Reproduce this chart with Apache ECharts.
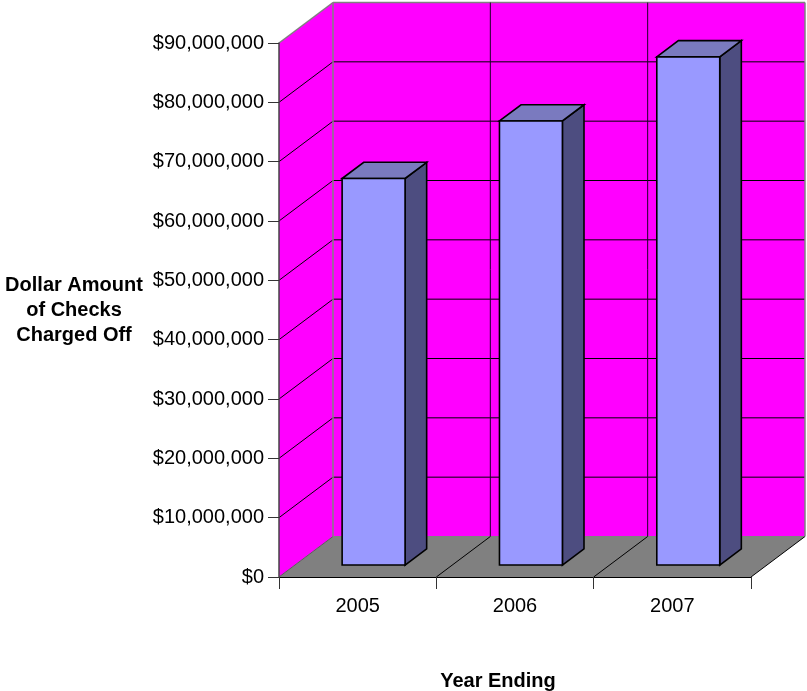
<!DOCTYPE html>
<html><head><meta charset="utf-8">
<style>html,body{margin:0;padding:0;background:#fff}#c{width:807px;height:691px}</style>
<script src="https://cdn.jsdelivr.net/npm/echarts@6/dist/echarts.min.js"></script>
</head><body><div id="c"></div>
<script>
const categories = ['2005', '2006', '2007'];
const chargedOff = [65150000, 74850000, 85650000];
const yTicks = [0, 10000000, 20000000, 30000000, 40000000, 50000000, 60000000, 70000000, 80000000, 90000000];
const yTitle = 'Dollar Amount\nof Checks\nCharged Off';
const xTitle = 'Year Ending';

const FONT = '"Liberation Sans", Arial, sans-serif';
const DX = 54, DY = -40.5;
const BAR_F = 0.295, BAR_B = 0.695, BAR_W = 0.4;
const MAGENTA = '#ff00ff', FLOOR = '#808080', LINE = '#000';
const YMAX = yTicks[yTicks.length - 1];
const n = categories.length;

const chart = echarts.init(document.getElementById('c'), null, {renderer: 'canvas'});

function poly(points, fill, stroke, w) {
  return {type: 'polygon', shape: {points}, style: {fill, stroke: stroke || null, lineWidth: w || 1, lineJoin: 'miter'}};
}
function seg(a, b, color, w) {
  return {type: 'line', shape: {x1: a[0], y1: a[1], x2: b[0], y2: b[1]}, style: {stroke: color, lineWidth: w || 1, fill: null}};
}
const back = p => [p[0] + DX, p[1] + DY];
function corners(api) {
  const band = api.size([1, 0])[0];
  const left = api.coord([0, 0])[0] - band / 2;
  const right = left + band * n;
  const y0 = api.coord([0, 0])[1];
  const yTop = api.coord([0, YMAX])[1];
  return {band, left, right, y0, yTop};
}

function renderWalls(params, api) {
  const c = corners(api);
  const fl = [c.left, c.y0], fr = [c.right, c.y0], tl = [c.left, c.yTop], tr = [c.right, c.yTop];
  const children = [
    poly([fl, tl, back(tl), back(fl)], MAGENTA),
    poly([back(fl), back(tl), back(tr), back(fr)], MAGENTA),
    poly([fl, fr, back(fr), back(fl)], FLOOR)
  ];
  return {type: 'group', children};
}
function renderGrid(params, api) {
  const c = corners(api);
  const y = api.coord([0, api.value(0)])[1];
  const a = [c.left, y], b = back(a), d = [c.right + DX, y + DY];
  const isTop = api.value(0) === YMAX, isZero = api.value(0) === 0;
  if (isZero) return {type: 'group', children: [seg(a, b, '#5a5a5a'), seg(b, d, FLOOR)]};
  if (isTop) return {type: 'group', children: [seg(a, b, FLOOR, 1.5), seg(b, d, FLOOR, 1.5)]};
  return {type: 'group', children: [seg(a, b, LINE), seg(b, d, LINE)]};
}
function renderBoundaries(params, api) {
  const c = corners(api);
  const i = api.value(0);
  const x = c.left + i * c.band;
  const f = [x, c.y0], b = back(f), t = [x + DX, c.yTop + DY];
  const kids = [];
  if (i > 0) kids.push(seg(f, b, LINE));
  if (i < n) kids.push(seg(b, t, i === 0 ? FLOOR : '#20002a', i === 0 ? 1.5 : 1));
  else kids.push(seg(b, t, FLOOR, 1.5));
  return {type: 'group', children: kids};
}
function renderBars(params, api) {
  const pTop = api.coord([api.value(0), api.value(1)]);
  const pBot = api.coord([api.value(0), 0]);
  const band = api.size([1, 0])[0];
  const w = band * BAR_W;
  const x0 = pTop[0] - w / 2 + DX * BAR_F, x1 = x0 + w;
  const yT = pTop[1] + DY * BAR_F, yB = pBot[1] + DY * BAR_F;
  const d = BAR_B - BAR_F, ox = DX * d, oy = DY * d;
  const s = {stroke: '#000', w: 1.6};
  return {type: 'group', children: [
    poly([[x1, yT], [x1 + ox, yT + oy], [x1 + ox, yB + oy], [x1, yB]], '#4d4d80', s.stroke, s.w),
    poly([[x0, yT], [x0 + ox, yT + oy], [x1 + ox, yT + oy], [x1, yT]], '#7a7abf', s.stroke, s.w),
    poly([[x0, yT], [x1, yT], [x1, yB], [x0, yB]], '#9999ff', s.stroke, s.w)
  ]};
}

const boundaryIdx = [];
for (let i = 0; i <= n; i++) boundaryIdx.push(i);

chart.setOption({
  animation: false,
  backgroundColor: '#fff',
  grid: {left: 279, top: 43, width: 472, height: 534, containLabel: false, outerBoundsMode: 'none'},
  xAxis: {
    type: 'category', data: categories, z: 6,
    axisLine: {lineStyle: {color: '#000', width: 1}},
    axisTick: {show: true, alignWithLabel: false, length: 12, lineStyle: {color: '#333'}},
    axisLabel: {color: '#000', fontFamily: FONT, fontSize: 20, margin: 19},
    name: xTitle, nameLocation: 'middle', nameGap: 94,
    nameTextStyle: {color: '#000', fontFamily: FONT, fontSize: 20, fontWeight: 'bold', padding: [0, 34, 0, 0]}
  },
  yAxis: {
    type: 'value', min: 0, max: YMAX, interval: yTicks[1] - yTicks[0], z: 6,
    axisLine: {show: true, lineStyle: {color: '#444', width: 1.5}},
    axisTick: {show: true, length: 11, lineStyle: {color: '#333'}},
    splitLine: {show: false},
    axisLabel: {color: '#000', fontFamily: FONT, fontSize: 20, margin: 15, padding: [2, 0, 0, 0],
      formatter: v => '$' + v.toLocaleString('en-US')},
    name: yTitle, nameLocation: 'middle', nameRotate: 0, nameGap: 205,
    nameTextStyle: {color: '#000', fontFamily: FONT, fontSize: 20, fontWeight: 'bold', lineHeight: 25, align: 'center', padding: [2, 0, 0, 0]}
  },
  series: [
    {type: 'custom', name: 'walls', silent: true, z: 1, clip: false, data: [[0]], renderItem: renderWalls},
    {type: 'custom', name: 'grid', silent: true, z: 2, clip: false, data: yTicks.map(v => [v]), renderItem: renderGrid},
    {type: 'custom', name: 'boundaries', silent: true, z: 2, clip: false, data: boundaryIdx.map(i => [i]), renderItem: renderBoundaries},
    {type: 'custom', name: 'Checks charged off', z: 3, clip: false,
      encode: {x: 0, y: 1},
      data: chargedOff.map((v, i) => [i, v]), renderItem: renderBars}
  ]
});
</script></body></html>
